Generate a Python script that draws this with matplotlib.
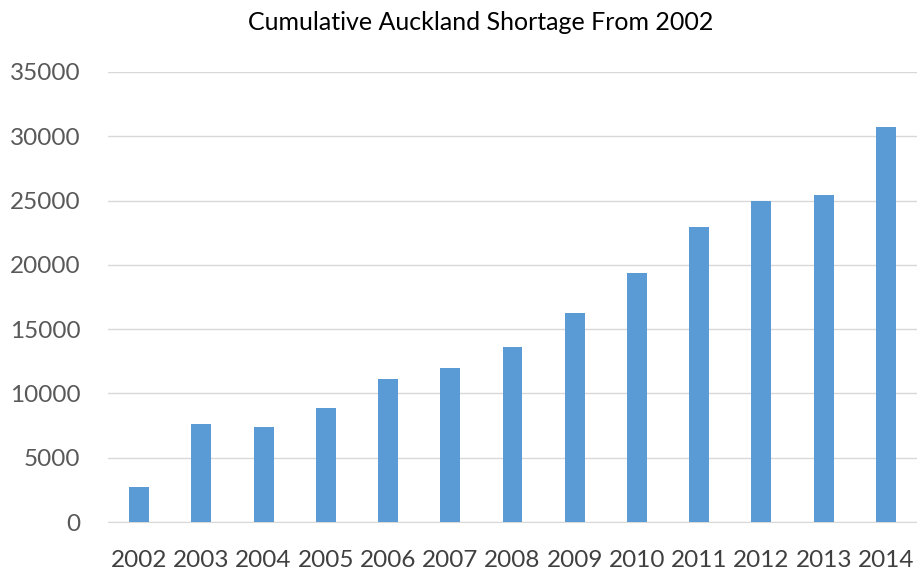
import numpy as np
import matplotlib
matplotlib.use('Agg')
import matplotlib.pyplot as plt

years = ['2002', '2003', '2004', '2005', '2006', '2007', '2008',
         '2009', '2010', '2011', '2012', '2013', '2014']
shortage = [2700, 7600, 7400, 8850, 11150, 12000, 13600,
            16250, 19350, 22950, 25000, 25450, 30700]

plt.rcParams['font.family'] = ['Lato', 'DejaVu Sans']

fig = plt.figure(figsize=(9.17, 5.70), dpi=100)
ax = fig.add_axes([0.1178, 0.0842, 0.8822, 0.7895])

x = np.arange(len(years))
ax.bar(x, shortage, width=0.32, color='#5B9BD5', zorder=3)

ax.set_xlim(-0.5, len(years) - 0.5)
ax.set_ylim(0, 35000)
ax.set_yticks(np.arange(0, 35001, 5000))
ax.set_xticks(x)
ax.set_xticklabels(years)
ax.grid(axis='y', color='#D9D9D9', linewidth=1, zorder=0)
ax.tick_params(axis='both', length=0, labelsize=17.5, colors='#595959')
ax.tick_params(axis='x', pad=20, colors='#404040')
ax.tick_params(axis='y', pad=20)
for s in ['top', 'right', 'left']:
    ax.spines[s].set_visible(False)
ax.spines['bottom'].set_color('#D9D9D9')

fig.text(0.524, 0.96, 'Cumulative Auckland Shortage From 2002',
         ha='center', va='center', fontsize=18, color='#000000')

fig.savefig('out.png', dpi=100)
